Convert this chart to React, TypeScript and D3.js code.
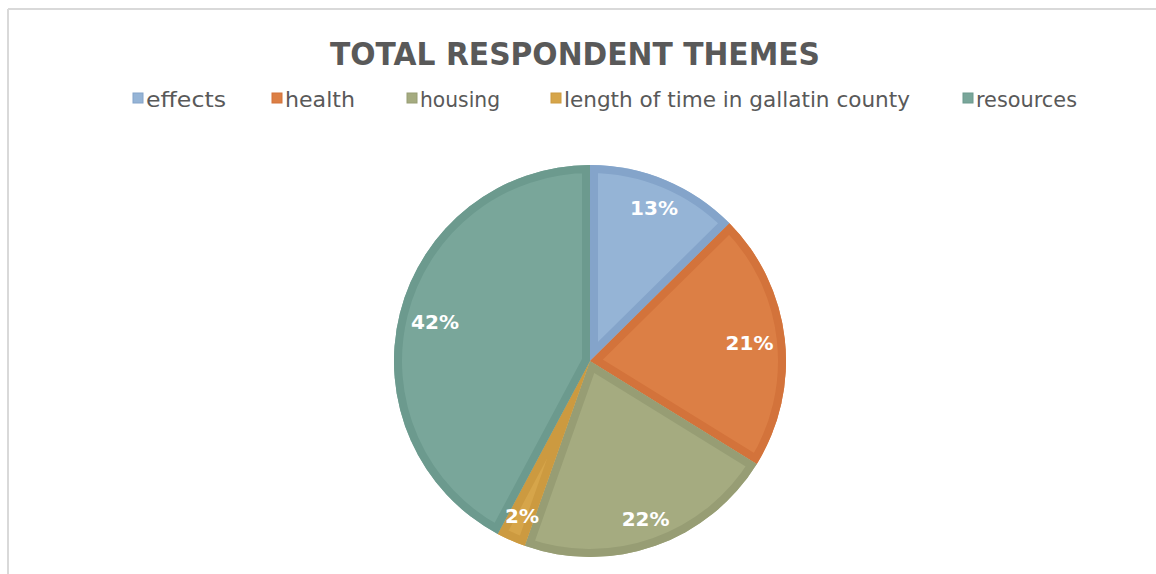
import React from "react";
import * as d3 from "d3";

const categories = ["effects", "health", "housing", "length of time in gallatin county", "resources"];
const values = [12.6, 21.2, 21.6, 2.4, 42.2];
const fills = ["#95B4D6", "#DC7F45", "#A5AB80", "#D6A54A", "#79A69A"];
const borders = ["#84A4CA", "#D3733B", "#979D74", "#CC9A40", "#6C9A8E"];
const title = "TOTAL RESPONDENT THEMES";

// legend layout (x of text start, target text width)
const legendX = [146, 285, 420, 564, 976];
const legendW = [80, 70, 80, 346, 101];

const W = 1156;
const H = 574;
const cx = 590;
const cy = 361;
const R = 196;
const BORDER = 8;

export default function App() {
  const total = d3.sum(values);
  const pie = d3.pie<number>().sort(null).value((d) => d)(values);
  const arc = d3.arc<d3.PieArcDatum<number>>().innerRadius(0).outerRadius(R);
  const fmt = (v: number) => `${Math.round((v / total) * 100)}%`;

  return (
    <svg
      width={W}
      height={H}
      style={{ position: "absolute", left: 0, top: 0, background: "#fff" }}
    >
      <defs>
        {pie.map((p, i) => (
          <clipPath id={`clip${i}`} key={i}>
            <path d={arc(p) || ""} />
          </clipPath>
        ))}
      </defs>
      <rect x={0} y={0} width={W} height={H} fill="#fff" />
      <line x1={8} y1={9} x2={W} y2={9} stroke="#D9D9D9" strokeWidth={2} />
      <line x1={8} y1={9} x2={8} y2={H} stroke="#D9D9D9" strokeWidth={2} />

      <text
        x={575}
        y={65}
        textAnchor="middle"
        fontFamily="'DejaVu Sans', sans-serif"
        fontWeight="bold"
        fontSize={32}
        fill="#595959"
        textLength={490}
        lengthAdjust="spacingAndGlyphs"
      >
        {title}
      </text>

      {categories.map((c, i) => (
        <g key={c}>
          <rect x={legendX[i] - 13} y={93} width={10} height={10} fill={fills[i]} stroke={borders[i]} strokeWidth={1} />
          <text
            x={legendX[i]}
            y={107}
            fontFamily="'DejaVu Sans', sans-serif"
            fontSize={21}
            fill="#595959"
            textLength={legendW[i]}
            lengthAdjust="spacingAndGlyphs"
          >
            {c}
          </text>
        </g>
      ))}

      <g transform={`translate(${cx},${cy})`}>
        {pie.map((p, i) => (
          <path key={`f${i}`} d={arc(p) || ""} fill={fills[i]} />
        ))}
        {pie.map((p, i) => (
          <path
            key={`b${i}`}
            d={arc(p) || ""}
            fill="none"
            stroke={borders[i]}
            strokeWidth={BORDER * 2}
            strokeLinejoin="round"
            clipPath={`url(#clip${i})`}
          />
        ))}
      </g>

      {pie.map((p, i) => {
        const label = fmt(values[i]);
        const a = (p.startAngle + p.endAngle) / 2;
        const w = label.length * 15;
        const h = 20;
        const ext = Math.abs(Math.sin(a)) * (w / 2) + Math.abs(Math.cos(a)) * (h / 2);
        const r = R - 12 - ext;
        const x = cx + Math.sin(a) * r;
        const y = cy - Math.cos(a) * r;
        return (
          <text
            key={`l${i}`}
            x={x}
            y={y}
            dy="0.36em"
            textAnchor="middle"
            fontFamily="'DejaVu Sans', sans-serif"
            fontWeight="bold"
            fontSize={20}
            fill="#fff"
          >
            {label}
          </text>
        );
      })}
    </svg>
  );
}
